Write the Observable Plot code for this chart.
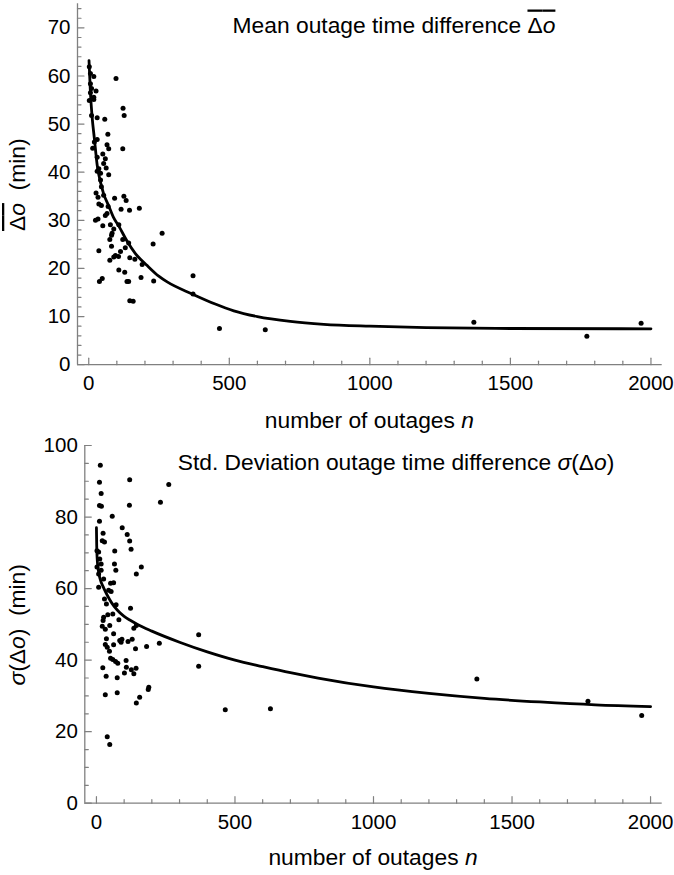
<!DOCTYPE html>
<html><head><meta charset="utf-8">
<script src="https://cdn.jsdelivr.net/npm/d3@7"></script>
<script src="https://cdn.jsdelivr.net/npm/@observablehq/plot@0.6"></script>
<style>
body{margin:0;background:#fff;font-family:"Liberation Sans",Arial,sans-serif}
#chart svg{display:block}
</style>
</head><body><div id="chart"></div>
<script>
// ---- Data: mean outage time difference (top panel) ----
const meanPointsN = [2,6,18,97,6,10,26,6,18,2,18,122,126,10,30,57,68,30,20,65,71,121,14,50,30,59,53,62,36,30,71,
  42,42,45,26,33,53,92,125,133,36,45,69,115,145,180,65,59,24,33,50,77,107,89,83,81,261,75,121,229,142,81,130,36,113,95,89,106,146,164,75,190,107,128,186,371,48,38,136,142,231,371,146,158,
  465,628,1370,1772,1965];
const meanPointsV = [61.9,60.5,59.9,59.5,58.4,57.4,56.9,56.5,55.6,54.9,55.1,53.3,51.8,51.8,51.3,51.0,47.9,46.8,46.3,45.7,44.9,44.9,45.0,43.8,43.1,42.8,41.8,40.9,40.7,40.2,39.5,
  39.8,38.4,37.0,35.7,34.8,35.2,34.6,35.0,34.1,33.4,33.1,32.9,32.3,32.1,32.5,31.4,31.0,30.0,30.3,28.9,29.1,29.1,28.2,27.3,26.9,27.3,26.0,26.0,25.1,25.3,24.6,24.3,23.7,23.5,22.7,22.4,22.5,22.2,21.9,21.7,20.8,19.7,19.2,18.1,18.5,17.9,17.3,17.3,17.3,17.4,14.7,13.3,13.2,
  7.5,7.25,8.8,5.9,8.6];
const meanFitN = [1,6,12,20,30,45,53,71,89,107,136,166,208,249,279,368,450,516,600,717,836,1000,1200,1500,2000];
const meanFitV = [63.2,56.5,51.5,47,41.5,37.2,35.5,33,30.5,28.8,25.7,23.1,20.6,18.4,17.2,14.7,12.6,11.2,10.0,9.0,8.4,8.0,7.7,7.52,7.46];

// ---- Data: std. deviation of outage time difference (bottom panel) ----
const sdPointsN = [14,120,11,261,17,231,11,18,119,57,11,93,111,24,120,125,21,29,66,2,8,65,12,17,2,70,162,144,8,17,26,51,62,8,
  44,53,29,36,71,123,59,41,26,24,81,144,135,21,32,48,62,369,36,84,92,89,114,129,227,32,39,62,141,181,47,51,59,69,77,107,108,23,369,126,143,135,101,35,75,189,187,32,75,156,144,
  39,48,465,628,1373,1774,1968];
const sdPointsV = [94.5,90.4,89.7,89.1,86.6,84.1,83.2,83.0,83.3,80.2,78.8,77.0,75.1,75.5,73.3,71.0,73.4,73.0,70.5,70.6,70.2,66.9,68.3,66.9,66.0,65.1,66.0,64.1,64.1,65.1,62.7,61.5,61.6,60.4,
  59.5,59.2,57.1,55.7,55.5,54.5,52.9,52.7,52.0,51.1,51.3,49.7,48.9,49.5,48.6,49.7,47.4,47.1,46.0,45.5,45.8,45.0,45.2,45.8,44.7,44.4,43.6,44.3,43.2,43.8,42.5,40.5,40.2,39.6,39.1,39.9,38.0,37.9,38.3,37.3,37.7,36.2,36.4,35.5,35.1,32.4,31.8,30.3,30.9,29.6,28.0,
  18.6,16.4,26.1,26.4,34.7,28.5,24.5];
const sdFitN = [0,1,3,7,14,26,40,55,75,100,125,150,200,300,400,500,600,700,800,1000,1200,1400,1600,1800,2000];
const sdFitV = [77,72,68,65,62.5,60.2,58.0,56.0,54.0,52.2,51.0,49.9,48.1,45.0,42.3,40.0,38.2,36.5,35.0,32.5,30.7,29.3,28.3,27.5,27.0];

// ---- Ticks ----
const xTicks = [0,500,1000,1500,2000];
const xMinor = [100,200,300,400,600,700,800,900,1100,1200,1300,1400,1600,1700,1800,1900];
const meanYTicks = [0,10,20,30,40,50,60,70];
const meanYMinor = [2,4,6,8,12,14,16,18,22,24,26,28,32,34,36,38,42,44,46,48,52,54,56,58,62,64,66,68,72,74];
const sdYTicks = [0,20,40,60,80,100];
const sdYMinor = [5,10,15,25,30,35,45,50,55,65,70,75,85,90,95];

const FONT = "Liberation Sans, Arial, sans-serif";
const GRAY = "#808080";
const W = 674;
const TICK_FS = 20.5;
const LABEL_FS = 22.8;
const tickShape = {draw(ctx, l) { ctx.moveTo(0, 0); ctx.lineTo(0, -l); }};

function panel(o) {
  const pts = o.pn.map((n, i) => ({n, v: o.pv[i]}));
  const fit = o.fn.map((n, i) => ({n, v: o.fv[i]}));
  const tickX = (data, len) => Plot.vector(data, {x: d => d, frameAnchor: "bottom", length: len, rotate: 0, anchor: "start", shape: tickShape, stroke: GRAY, strokeWidth: 1.2});
  const tickY = (data, len) => Plot.vector(data, {y: d => d, frameAnchor: "left", length: len, rotate: 90, anchor: "start", shape: tickShape, stroke: GRAY, strokeWidth: 1.2});
  const svg = Plot.plot({
    width: W, height: o.height,
    marginLeft: o.marginLeft, marginRight: o.marginRight, marginTop: o.marginTop, marginBottom: o.marginBottom,
    x: {domain: o.xDomain},
    y: {domain: o.yDomain},
    style: {fontFamily: FONT, fontSize: TICK_FS + "px", color: "black", background: "white", overflow: "visible"},
    marks: [
      Plot.ruleY([o.yDomain[0]], {stroke: GRAY, strokeWidth: 1.3}),
      Plot.ruleX([o.xDomain[0]], {stroke: GRAY, strokeWidth: 1.3}),
      tickX(xMinor, 3.5), tickX(xTicks, 6.5),
      tickY(o.yMinor, 3.5), tickY(o.yTicks, 6.5),
      Plot.axisX(xTicks, {tickSize: 0, tickPadding: 11, label: null, fontSize: TICK_FS, fill: "black", tickFormat: d => String(d)}),
      Plot.axisY(o.yTicks, {tickSize: 0, tickPadding: 7, label: null, fontSize: TICK_FS, fill: "black", tickFormat: d => String(d)}),
      Plot.line(fit, {x: "n", y: "v", curve: "monotone-x", stroke: "black", strokeWidth: 2.8}),
      Plot.dot(pts, {x: "n", y: "v", r: 2.5, fill: "black", stroke: "none"})
    ]
  });
  const s = d3.select(svg);
  const plotTop = o.marginTop, plotBottom = o.height - o.marginBottom;
  const plotLeft = o.marginLeft, plotRight = W - o.marginRight;
  const yl = s.append("text")
    .attr("transform", `translate(${o.yLabelX},${(plotTop + plotBottom) / 2 + o.yLabelShift}) rotate(-90)`)
    .attr("text-anchor", "middle").attr("font-family", FONT).attr("font-size", LABEL_FS).attr("fill", "black");
  o.yLabel(yl);
  const xl = s.append("text")
    .attr("x", (plotLeft + plotRight) / 2).attr("y", plotBottom + o.xLabelDy)
    .attr("text-anchor", "middle").attr("font-family", FONT).attr("font-size", LABEL_FS).attr("fill", "black");
  xl.append("tspan").text("number of outages ");
  xl.append("tspan").attr("font-style", "italic").text("n");
  const tl = s.append("text")
    .attr("x", o.titleX).attr("y", o.titleY)
    .attr("text-anchor", "middle").attr("font-family", FONT).attr("font-size", LABEL_FS).attr("fill", "black");
  o.title(tl);
  return svg;
}

const topPanel = panel({
  pn: meanPointsN, pv: meanPointsV, fn: meanFitN, fv: meanFitV,
  xDomain: [-40, 2040], yDomain: [0, 75],
  yTicks: meanYTicks, yMinor: meanYMinor,
  height: 434, marginLeft: 77, marginRight: 12.3, marginTop: 3.3, marginBottom: 69.8,
  yLabelX: 25, yLabelShift: 1, xLabelDy: 64,
  titleX: 394, titleY: 32.5,
  yLabel: (t) => {
    const ov = t.append("tspan").attr("text-decoration", "overline");
    ov.append("tspan").text("Δ");
    ov.append("tspan").attr("font-style", "italic").text("o");
    t.append("tspan").text("\u00a0\u00a0(min)");
  },
  title: (t) => {
    t.append("tspan").text("Mean outage time difference ");
    const ov = t.append("tspan").attr("text-decoration", "overline");
    ov.append("tspan").text("Δ");
    ov.append("tspan").attr("font-style", "italic").text("o");
  }
});

const bottomPanel = panel({
  pn: sdPointsN, pv: sdPointsV, fn: sdFitN, fv: sdFitV,
  xDomain: [-42, 2042], yDomain: [0, 100],
  yTicks: sdYTicks, yMinor: sdYMinor,
  height: 441, marginLeft: 84.3, marginRight: 12.3, marginTop: 11, marginBottom: 72.3,
  yLabelX: 25, yLabelShift: 1, xLabelDy: 62,
  titleX: 396, titleY: 36,
  yLabel: (t) => {
    t.append("tspan").attr("font-style", "italic").text("σ");
    t.append("tspan").text("(Δ");
    t.append("tspan").attr("font-style", "italic").text("o");
    t.append("tspan").text(")\u00a0\u00a0(min)");
  },
  title: (t) => {
    t.append("tspan").text("Std. Deviation outage time difference ");
    t.append("tspan").attr("font-style", "italic").text("σ");
    t.append("tspan").text("(Δ");
    t.append("tspan").attr("font-style", "italic").text("o");
    t.append("tspan").text(")");
  }
});

document.getElementById("chart").append(topPanel, bottomPanel);
</script>
</body></html>
